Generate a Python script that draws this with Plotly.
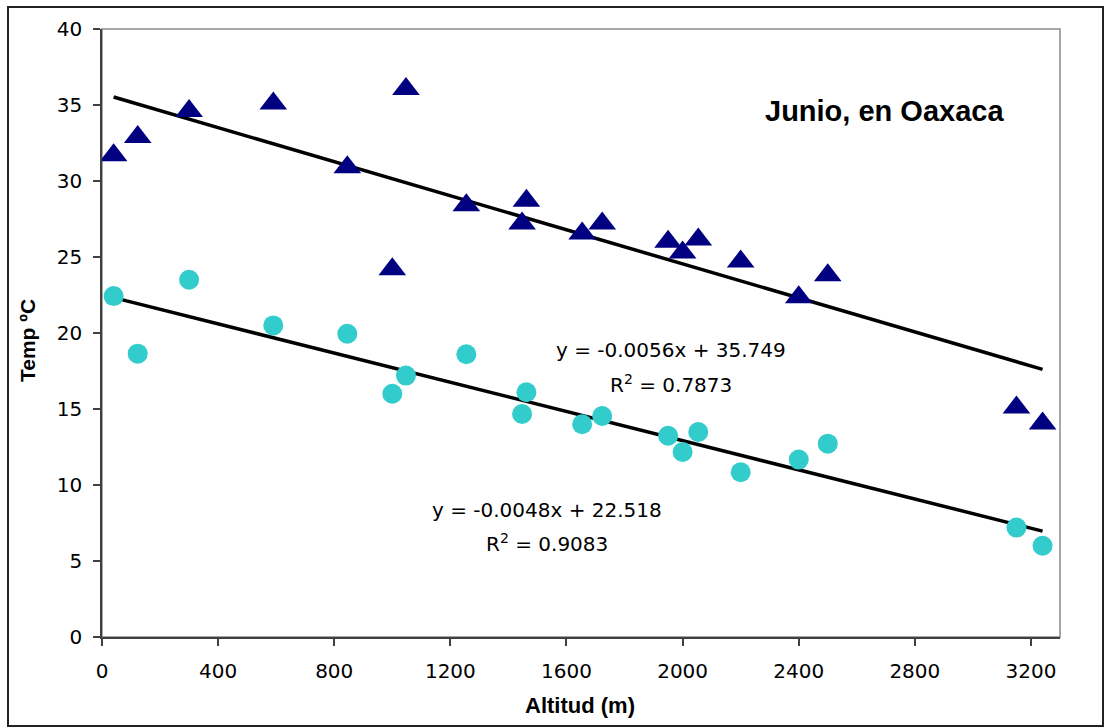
import plotly.graph_objects as go

# ---- data ----
altitud = [40, 123, 300, 590, 845, 1000, 1047, 1255, 1447, 1462,
           1654, 1723, 1950, 2000, 2054, 2200, 2400, 2500, 3150, 3240]
temp_max = [31.7, 32.9, 34.6, 35.1, 30.9, 24.2, 36.05, 28.4, 27.2, 28.7,
            26.55, 27.2, 26.0, 25.3, 26.15, 24.7, 22.35, 23.8, 15.1, 14.05]
temp_min = [22.43, 18.64, 23.5, 20.5, 19.95, 16.0, 17.2, 18.6, 14.67, 16.1,
            14.0, 14.54, 13.24, 12.17, 13.49, 10.84, 11.67, 12.72, 7.2, 6.0]

# trendline coefficients as printed on the chart
coef_max = [-0.0056, 35.749]
coef_min = [-0.0048, 22.518]
r2_max = 0.7873
r2_min = 0.9083

x_ticks = [0, 400, 800, 1200, 1600, 2000, 2400, 2800, 3200]
y_ticks = [0, 5, 10, 15, 20, 25, 30, 35, 40]

titulo = "Junio, en Oaxaca"
x_title = "Altitud (m)"
y_title = "Temp ºC"

FONT = "Liberation Sans, Arial, sans-serif"
FONT_W = "DejaVu Sans, sans-serif"

trend_x = [min(altitud), max(altitud)]
trend_max = [coef_max[0] * x + coef_max[1] for x in trend_x]
trend_min = [coef_min[0] * x + coef_min[1] for x in trend_x]

fig = go.Figure()
fig.add_trace(go.Scatter(x=trend_x, y=trend_max, mode="lines",
                         line=dict(color="black", width=3.5), hoverinfo="skip"))
fig.add_trace(go.Scatter(x=trend_x, y=trend_min, mode="lines",
                         line=dict(color="black", width=3.5), hoverinfo="skip"))
fig.add_trace(go.Scatter(x=altitud, y=temp_max, mode="markers",
                         marker=dict(symbol="triangle-up", size=24, color="#000080",
                                     line=dict(width=0))))
fig.add_trace(go.Scatter(x=altitud, y=temp_min, mode="markers",
                         marker=dict(symbol="circle", size=20, color="#33CCCC",
                                     line=dict(width=0))))

def fmt_eq(c):
    sign = "+" if c[1] >= 0 else "-"
    return f"y = {c[0]:.4f}x {sign} {abs(c[1]):.3f}"

def px_x(p):
    return (p - 102) / 958

def px_y(p):
    return (637 - p) / 608

def ann(text, x, y, size, family=FONT, angle=0):
    return dict(text=text, xref="paper", yref="paper", x=x, y=y,
                xanchor="center", yanchor="middle", textangle=angle,
                showarrow=False, font=dict(family=family, size=size, color="black"))

annotations = [
    ann(f"<b>{titulo}</b>", px_x(884.5), px_y(111), 29),
    ann(f"<b>{x_title}</b>", px_x(580), px_y(705), 22),
    ann(f"<b>{y_title}</b>", px_x(28), px_y(341), 21, angle=-90),
    ann(fmt_eq(coef_max), px_x(671), px_y(350), 20, FONT_W),
    ann(f"R<sup>2</sup> = {r2_max:.4f}", px_x(671), px_y(384), 20, FONT_W),
    ann(fmt_eq(coef_min), px_x(547), px_y(510), 20, FONT_W),
    ann(f"R<sup>2</sup> = {r2_min:.4f}", px_x(547), px_y(543), 20, FONT_W),
]

shapes = [
    # plot-area frame (grey)
    dict(type="rect", xref="paper", yref="paper", x0=0, y0=0, x1=1, y1=1,
         line=dict(color="#8a8a8a", width=1.5), layer="below"),
    # outer chart frame
    dict(type="rect", xref="paper", yref="paper",
         x0=px_x(8), x1=px_x(1103), y0=px_y(726), y1=px_y(7),
         line=dict(color="#222222", width=2), layer="below"),
]

axis_common = dict(showgrid=False, zeroline=False, showline=True,
                   linecolor="#404040", linewidth=1.5,
                   ticks="outside", ticklen=7, tickwidth=1.5, tickcolor="#404040",
                   tickfont=dict(family=FONT_W, size=20, color="black"))

fig.update_layout(
    width=1104, height=727,
    margin=dict(l=102, r=44, t=29, b=90),
    paper_bgcolor="white", plot_bgcolor="white",
    showlegend=False,
    font=dict(family=FONT, color="black"),
    annotations=annotations,
    shapes=shapes,
    xaxis=dict(range=[0, 3300], tickvals=x_ticks, ticktext=[str(v) for v in x_ticks],
               ticklabelstandoff=8, **axis_common),
    yaxis=dict(range=[0, 40], tickvals=y_ticks, ticktext=[str(v) for v in y_ticks],
               ticklabelstandoff=7, **axis_common),
)

fig.write_html("out.html")
